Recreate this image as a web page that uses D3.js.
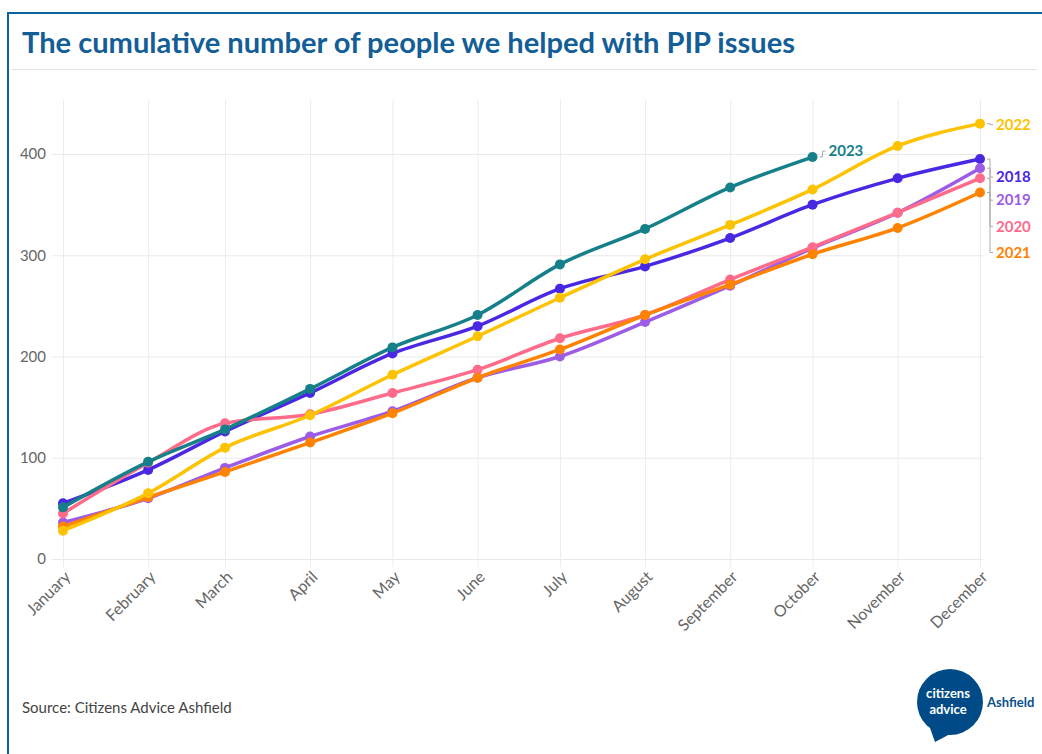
<!DOCTYPE html>
<html><head><meta charset="utf-8">
<script src="https://cdn.jsdelivr.net/npm/d3@7"></script>
<style>
body{margin:0;background:#fff;}
svg{display:block;font-family:Lato,"Open Sans",sans-serif;}
</style></head>
<body><svg id="c" width="1042" height="754"></svg>
<script>
const months = ["January","February","March","April","May","June","July","August","September","October","November","December"];
const yTicks = [0,100,200,300,400];
const years = ["2018","2019","2020","2021","2022","2023"];
const v2018 = [55,88,126,164,203,230,267,289,317,350,376,395];
const v2019 = [36,60,90,121,146,179,200,234,270,307,342,386];
const v2020 = [45,95,134,143,164,187,218,241,276,308,342,376];
const v2021 = [32,61,86,115,144,179,207,241,271,301,327,362];
const v2022 = [28,65,110,142,182,220,258,296,330,365,408,430];
const v2023 = [51,96,128,168,209,241,291,326,367,397];
const seriesValues = [v2018,v2019,v2020,v2021,v2022,v2023];

const colors = {"2018":"#4a27e2","2019":"#9d5ce6","2020":"#ff6b8b","2021":"#ff8300","2022":"#fdc200","2023":"#16808a"};
const labelNudge = {"2018":18,"2019":32,"2020":48,"2021":60,"2022":1,"2023":-6};

const svg = d3.select("#c");
svg.append("rect").attr("width",1042).attr("height",754).attr("fill","#fff");
// frame
svg.append("path").attr("d","M8,754 V13 H1042").attr("fill","none").attr("stroke","#0b62a0").attr("stroke-width",2);
// title
const title = svg.append("text").attr("x",22).attr("y",53).attr("fill","#135e96")
  .style("font-weight","bold").style("font-size","24px").style("font-family","Lato, sans-serif")
  .text("The cumulative number of people we helped with PIP issues");
const tw = title.node().getComputedTextLength();
title.style("font-size", (24*773/tw).toFixed(2)+"px");
svg.append("line").attr("x1",11).attr("x2",1037).attr("y1",69.5).attr("y2",69.5).attr("stroke","#e2e2e2").attr("stroke-width",1);

const dates = months.map((m,i)=>new Date(2018,i,1));
const x = d3.scaleTime().domain([dates[0],dates[11]]).range([63,980]);
const y = d3.scaleLinear().domain([0,450]).range([559,103.4]);

// y grid + axis
const gy = svg.append("g").attr("transform","translate(983,0)")
  .call(d3.axisLeft(y).tickValues(yTicks).tickSize(931).tickPadding(6).tickFormat(d3.format("d")));
gy.select(".domain").remove();
gy.selectAll(".tick line").attr("stroke","#e9e9e9");
gy.selectAll(".tick text").attr("fill","#666").style("font-size","15px").style("font-family","Lato, sans-serif");

// x grid + axis
const gx = svg.append("g").attr("transform","translate(0,567)")
  .call(d3.axisBottom(x).tickValues(dates).tickSize(-467).tickFormat((d,i)=>months[i]));
gx.select(".domain").remove();
gx.selectAll(".tick line").attr("stroke","#ececec");
gx.selectAll(".tick text").attr("fill","#666").style("font-size","16px").style("font-family","Lato, sans-serif")
  .attr("text-anchor","end").attr("dy","0").attr("y",0)
  .attr("transform","translate(8,11) rotate(-45)");

// lines
const line = d3.line().x((d,i)=>x(dates[i])).y(d=>y(d)).curve(d3.curveMonotoneX);
years.forEach((yr,k)=>{
  const vals = seriesValues[k];
  const g = svg.append("g");
  g.append("path").attr("d",line(vals)).attr("fill","none").attr("stroke",colors[yr]).attr("stroke-width",3.5).attr("stroke-linejoin","round");
  g.selectAll("circle").data(vals).join("circle")
    .attr("cx",(d,i)=>x(dates[i])).attr("cy",d=>y(d)).attr("r",5).attr("fill",colors[yr]);
});

// labels
years.forEach((yr,k)=>{
  const vals = seriesValues[k];
  const i = vals.length-1;
  const px = x(dates[i]), py = y(vals[i]);
  const ly = py + labelNudge[yr];
  const x0 = px+7, x1 = px+10, x2 = px+13;
  svg.append("path").attr("d",`M${x0},${py} H${x1} V${ly} H${x2}`).attr("fill","none").attr("stroke","#aaa").attr("stroke-width",1);
  svg.append("text").attr("x",x2+3).attr("y",ly).attr("dy","0.35em").attr("fill",colors[yr])
    .style("font-weight","bold").style("font-size","15px").style("font-family","Lato, sans-serif").text(yr);
});

// source
svg.append("text").attr("x",22).attr("y",713).attr("fill","#444").style("font-size","15px").style("font-family","Lato, sans-serif")
  .text("Source: Citizens Advice Ashfield");

// logo
const lg = svg.append("g");
lg.append("circle").attr("cx",950).attr("cy",702).attr("r",33).attr("fill","#004b87");
lg.append("path").attr("d","M930,728 L935,742 L952,733 Z").attr("fill","#004b87");
lg.append("text").attr("x",948).attr("y",698).attr("text-anchor","middle").attr("fill","#fff")
  .style("font-weight","bold").style("font-size","13px").style("font-family","Lato, sans-serif").text("citizens");
lg.append("text").attr("x",948).attr("y",714).attr("text-anchor","middle").attr("fill","#fff")
  .style("font-weight","bold").style("font-size","13px").style("font-family","Lato, sans-serif").text("advice");
lg.append("text").attr("x",987).attr("y",707).attr("fill","#0a4f8c")
  .style("font-weight","bold").style("font-size","13px").style("font-family","Lato, sans-serif").text("Ashfield");
</script></body></html>
